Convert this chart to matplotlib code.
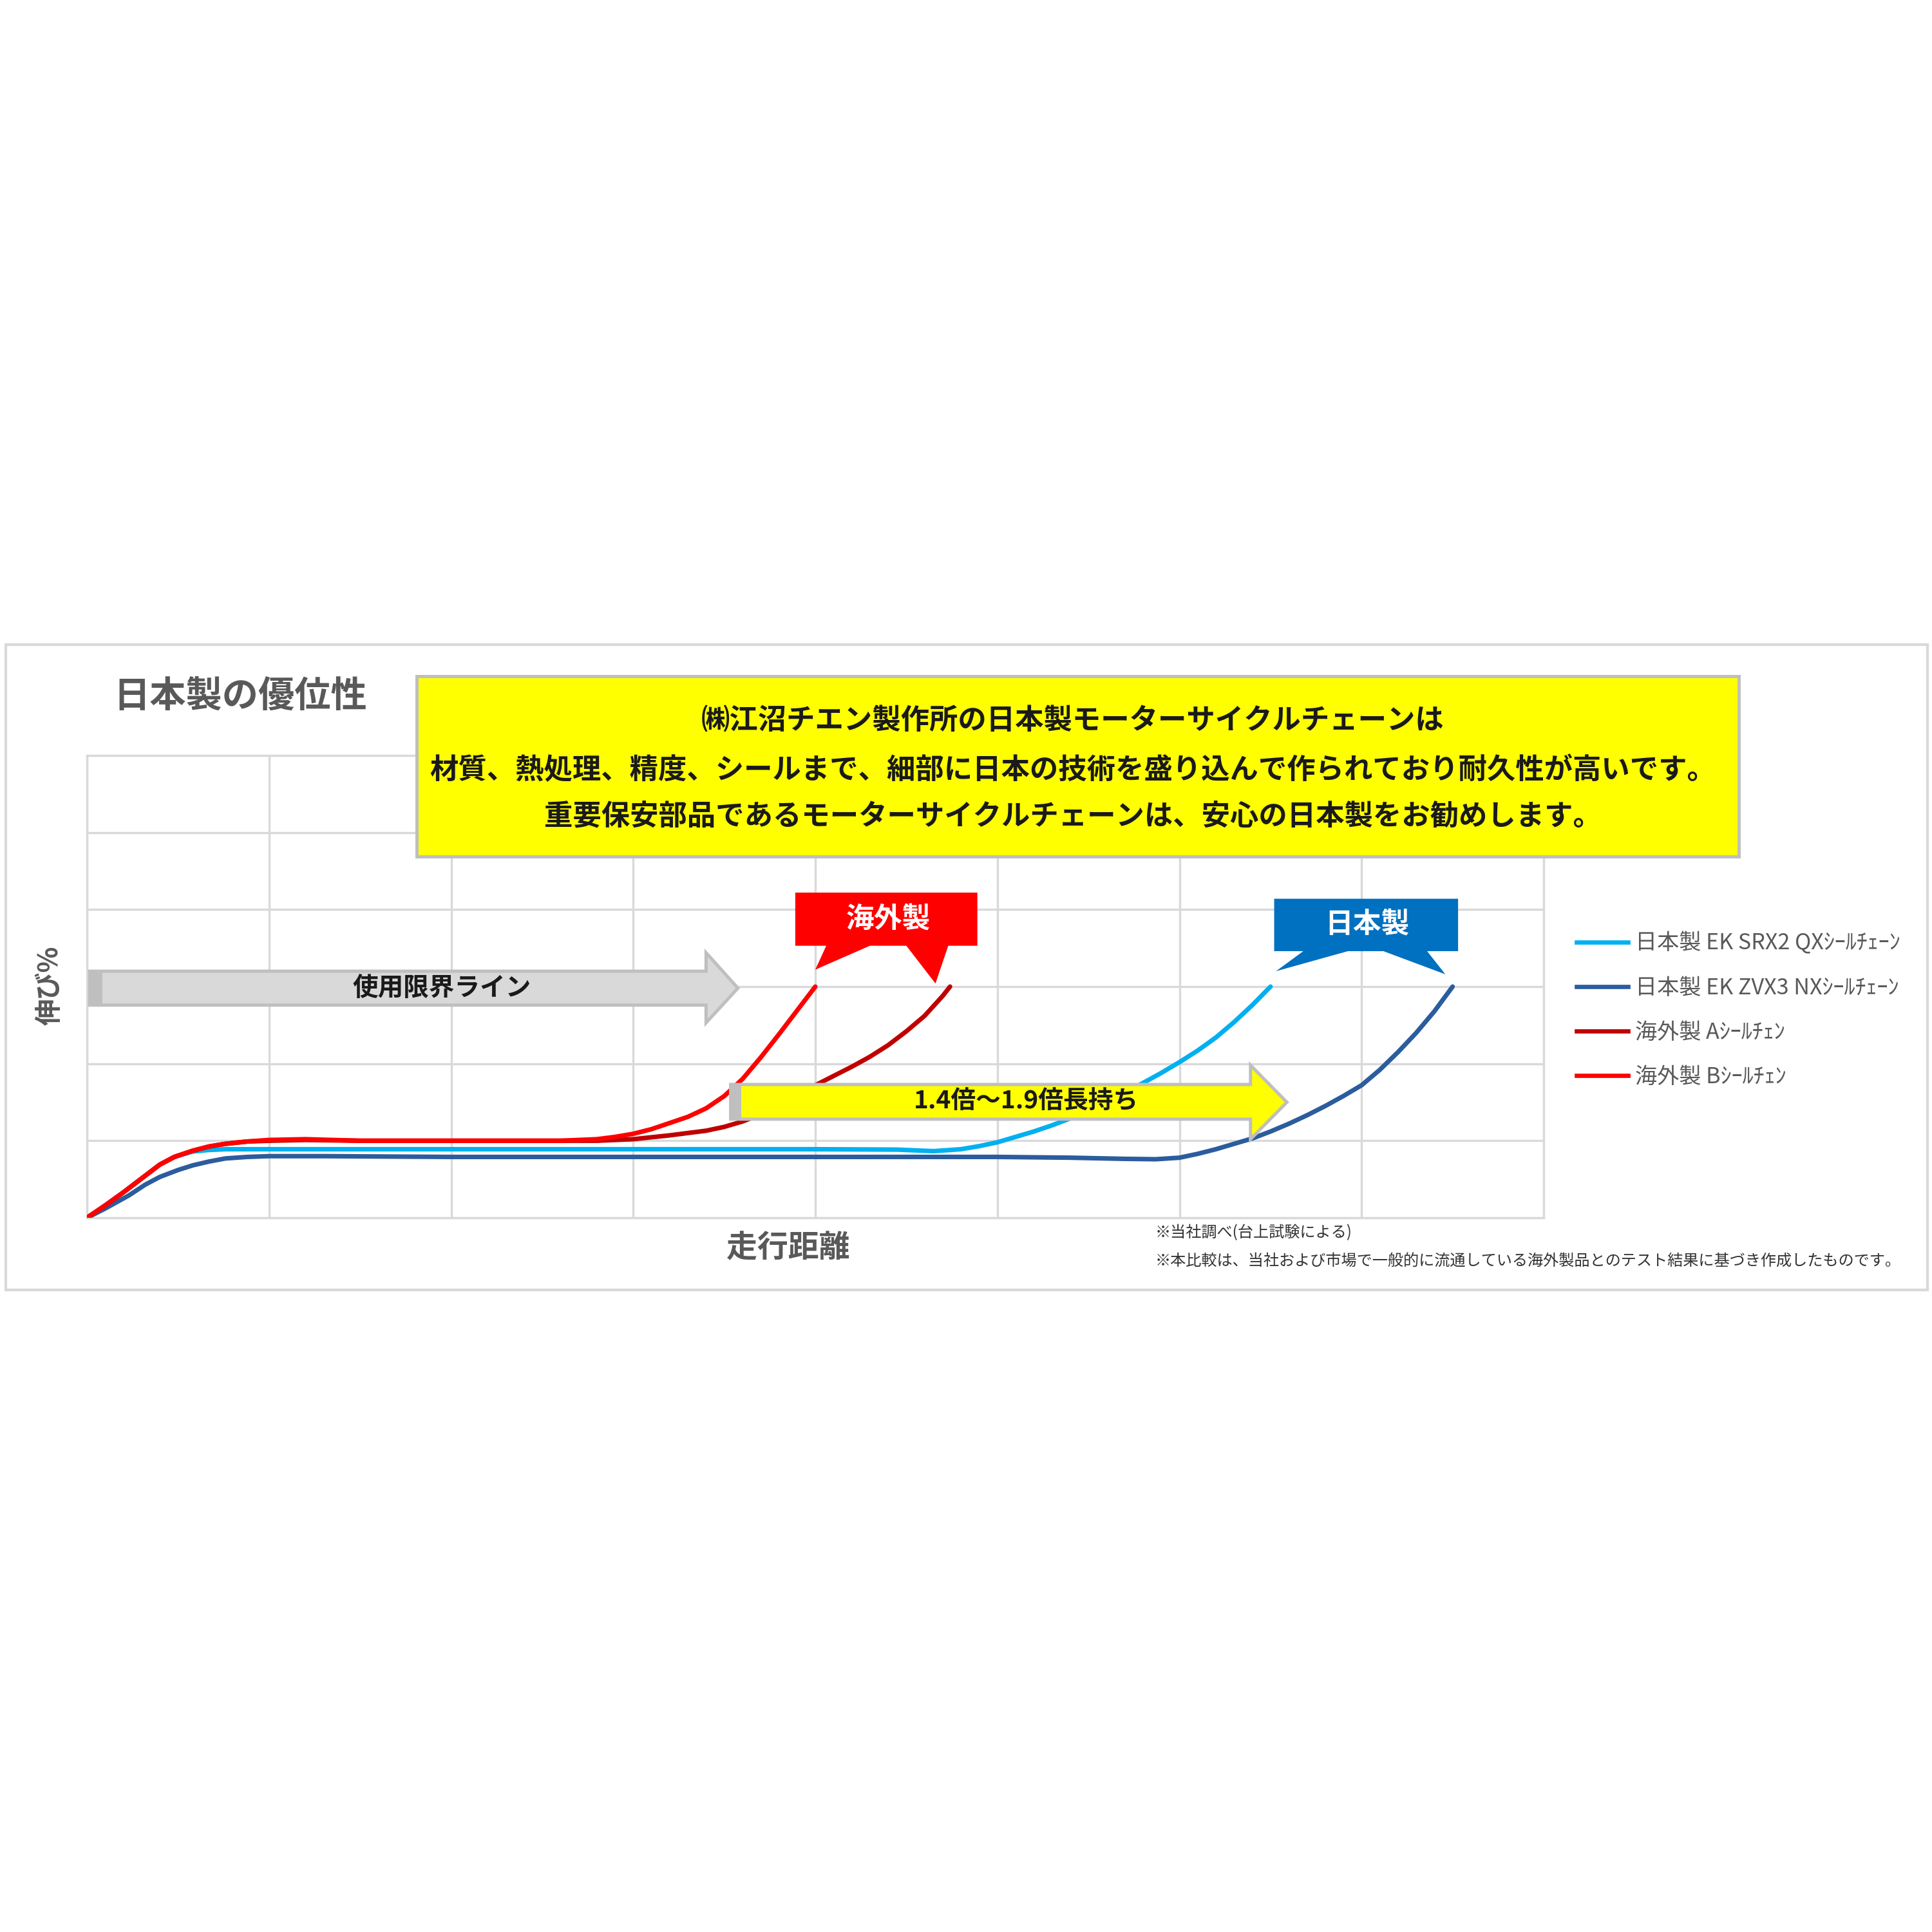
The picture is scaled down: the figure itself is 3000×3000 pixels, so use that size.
import matplotlib
matplotlib.use("Agg")
import matplotlib.pyplot as plt
from matplotlib.patches import Polygon, Rectangle
from matplotlib.lines import Line2D

plt.rcParams['font.family'] = ['Noto Sans CJK JP', 'DejaVu Sans']

# --- data (x: 走行距離 grid units, y: 伸び% grid units) ---
series_names = [
    "日本製 EK SRX2 QXｼｰﾙﾁｪｰﾝ",
    "日本製 EK ZVX3 NXｼｰﾙﾁｪｰﾝ",
    "海外製 Aｼｰﾙﾁｪﾝ",
    "海外製 Bｼｰﾙﾁｪﾝ",
]
series_colors = ["#00b0f0", "#2b5c9e", "#c00000", "#ff0000"]

srx2_x = [0, 0.1, 0.2, 0.3, 0.4, 0.48, 0.58, 0.67, 0.76, 0.9, 1.0, 1.5, 2.0, 3.0, 4.0, 4.45,
          4.65, 4.8, 4.9, 5.0, 5.1, 5.2, 5.3, 5.4, 5.5, 5.6, 5.7, 5.8, 5.9, 6.0, 6.1, 6.2,
          6.3, 6.4, 6.5]
srx2_y = [0, 0.16, 0.33, 0.51, 0.69, 0.79, 0.86, 0.88, 0.89, 0.89, 0.89, 0.89, 0.89, 0.89, 0.89, 0.885,
          0.865, 0.89, 0.93, 0.98, 1.05, 1.12, 1.2, 1.29, 1.39, 1.5, 1.62, 1.75, 1.88, 2.02, 2.17, 2.34,
          2.54, 2.76, 3.0]

zvx3_x = [0, 0.1, 0.23, 0.32, 0.4, 0.5, 0.58, 0.67, 0.76, 0.88, 1.0, 1.3, 2.0, 3.0, 4.0, 5.0,
          5.4, 5.7, 5.87, 6.0, 6.1, 6.2, 6.3, 6.4, 6.5, 6.6, 6.7, 6.8, 6.9, 7.0, 7.1, 7.2,
          7.3, 7.4, 7.5]
zvx3_y = [0, 0.12, 0.29, 0.43, 0.53, 0.62, 0.68, 0.73, 0.77, 0.79, 0.80, 0.80, 0.79, 0.79, 0.79, 0.79,
          0.78, 0.765, 0.76, 0.78, 0.83, 0.89, 0.96, 1.03, 1.12, 1.22, 1.33, 1.45, 1.58, 1.72, 1.92, 2.15,
          2.4, 2.68, 3.0]

a_x = [0, 0.1, 0.2, 0.3, 0.4, 0.48, 0.58, 0.67, 0.76, 0.88, 1.0, 1.2, 1.5, 2.0, 2.6, 2.8,
       3.0, 3.2, 3.4, 3.5, 3.6, 3.7, 3.8, 3.9, 4.0, 4.1, 4.2, 4.3, 4.4, 4.5, 4.6, 4.7, 4.74]
a_y = [0, 0.16, 0.33, 0.51, 0.69, 0.79, 0.87, 0.925, 0.96, 0.99, 1.0, 1.01, 1.0, 1.0, 1.0, 1.0,
       1.02, 1.07, 1.13, 1.18, 1.25, 1.34, 1.45, 1.58, 1.72, 1.84, 1.96, 2.09, 2.24, 2.42, 2.62, 2.88, 3.0]

b_x = [0, 0.1, 0.2, 0.3, 0.4, 0.48, 0.58, 0.67, 0.76, 0.88, 1.0, 1.2, 1.5, 2.0, 2.6, 2.8,
       2.9, 3.0, 3.1, 3.2, 3.3, 3.4, 3.5, 3.6, 3.7, 3.8, 3.9, 4.0]
b_y = [0, 0.16, 0.33, 0.51, 0.69, 0.79, 0.87, 0.925, 0.96, 0.99, 1.01, 1.02, 1.0, 1.0, 1.0, 1.02,
       1.05, 1.09, 1.15, 1.23, 1.31, 1.42, 1.58, 1.8, 2.08, 2.38, 2.69, 3.0]

title_text = "日本製の優位性"
box_lines = [
    "㈱江沼チエン製作所の日本製モーターサイクルチェーンは",
    "材質、熱処理、精度、シールまで、細部に日本の技術を盛り込んで作られており耐久性が高いです。",
    "重要保安部品であるモーターサイクルチェーンは、安心の日本製をお勧めします。",
]
limit_text = "使用限界ライン"
life_text = "1.4倍～1.9倍長持ち"
foreign_tag = "海外製"
japan_tag = "日本製"
notes = [
    "※当社調べ(台上試験による)",
    "※本比較は、当社および市場で一般的に流通している海外製品とのテスト結果に基づき作成したものです。",
]

GRAY_TXT = "#595959"
GRID = "#d9d9d9"


def fy(py):
    return 1 - py / 3000


fig = plt.figure(figsize=(10, 10), dpi=300)
fig.patch.set_facecolor("white")

ax = fig.add_axes([135 / 3000, fy(1891), 2262 / 3000, 718 / 3000])
ax.set_xlim(0, 8)
ax.set_ylim(0, 6)
ax.set_xticks(range(9))
ax.set_yticks(range(7))
ax.grid(color=GRID, lw=0.8)
ax.set_axisbelow(True)
ax.tick_params(length=0, labelbottom=False, labelleft=False)
for sp in ax.spines.values():
    sp.set_color(GRID)
    sp.set_linewidth(0.8)

xs = [srx2_x, zvx3_x, a_x, b_x]
ys = [srx2_y, zvx3_y, a_y, b_y]
for x, y, c, name in zip(xs, ys, series_colors, series_names):
    ax.plot(x, y, color=c, lw=1.7, solid_capstyle="round", solid_joinstyle="round",
            label=name, zorder=3)

# grey "limit" arrow
gray_arrow = [(0.015, 2.76), (3.40, 2.76), (3.40, 2.53), (3.575, 2.98), (3.40, 3.44),
              (3.40, 3.20), (0.015, 3.20)]
ax.add_patch(Polygon(gray_arrow, closed=True, facecolor="#d9d9d9", edgecolor="#bfbfbf",
                     lw=1.2, zorder=4, joinstyle="miter"))
ax.add_patch(Rectangle((0.015, 2.76), 0.07, 0.44, facecolor="#bfbfbf", edgecolor="none", zorder=4))
ax.text(1.95, 2.98, limit_text, ha="center", va="center", fontsize=9.5,
        fontweight="bold", color="#1a1a1a", zorder=5)

# yellow "life" arrow
yellow_arrow = [(3.535, 1.28), (6.39, 1.28), (6.39, 1.02), (6.59, 1.50), (6.39, 1.98),
                (6.39, 1.73), (3.535, 1.73)]
ax.add_patch(Polygon(yellow_arrow, closed=True, facecolor="#ffff00", edgecolor="#bfbfbf",
                     lw=1.2, zorder=4, joinstyle="miter"))
ax.add_patch(Rectangle((3.535, 1.28), 0.06, 0.45, facecolor="#bfbfbf", edgecolor="none", zorder=4))
ax.text(5.16, 1.51, life_text, ha="center", va="center", fontsize=9.3,
        fontweight="bold", color="#1a1a1a", zorder=5)

# callouts
red_tag = [(3.89, 4.22), (4.89, 4.22), (4.89, 3.53), (4.73, 3.53), (4.66, 3.04), (4.50, 3.53),
           (4.30, 3.53), (4.0, 3.22), (4.06, 3.53), (3.89, 3.53)]
ax.add_patch(Polygon(red_tag, closed=True, facecolor="#ff0000", edgecolor="none", zorder=6))
ax.text(4.40, 3.88, foreign_tag, ha="center", va="center", fontsize=10.5,
        fontweight="bold", color="white", zorder=7)

blue_tag = [(6.52, 4.14), (7.53, 4.14), (7.53, 3.46), (7.36, 3.46), (7.46, 3.16), (7.12, 3.46),
            (6.925, 3.46), (6.53, 3.20), (6.68, 3.46), (6.52, 3.46)]
ax.add_patch(Polygon(blue_tag, closed=True, facecolor="#0070c0", edgecolor="none", zorder=6))
ax.text(7.03, 3.81, japan_tag, ha="center", va="center", fontsize=10.5,
        fontweight="bold", color="white", zorder=7)

# legend
handles = [Line2D([0], [0], color=c, lw=1.6) for c in series_colors]
ax.legend(handles, series_names, loc="center left", bbox_to_anchor=(2448 / 3000, fy(1569)),
          bbox_transform=fig.transFigure, frameon=False, fontsize=8.2, labelcolor=GRAY_TXT,
          handlelength=2.35, handletextpad=0.3, labelspacing=1.0, borderpad=0, borderaxespad=0)

# titles / labels
fig.text(176 / 3000, fy(1081), title_text, ha="left", va="center", fontsize=13.5,
         fontweight="bold", color=GRAY_TXT)
fig.text(1224 / 3000, fy(1938), "走行距離", ha="center", va="center", fontsize=11.5,
         fontweight="bold", color=GRAY_TXT)
fig.text(78 / 3000, fy(1530), "伸び%", ha="center", va="center", rotation=90, fontsize=10,
         fontweight="bold", color=GRAY_TXT)

# yellow message box
fig.add_artist(Rectangle((647 / 3000, fy(1330)), (2700 - 647) / 3000, 280 / 3000,
                         transform=fig.transFigure, facecolor="#ffff00", edgecolor="#bfbfbf",
                         lw=1.2, zorder=5))
for line, py in zip(box_lines, [1119, 1196, 1269]):
    fig.text(1666 / 3000, fy(py), line, ha="center", va="center", fontsize=10.65,
             fontweight="bold", color="#1a1a1a", zorder=6)

# footnotes
for line, py in zip(notes, [1914, 1958]):
    fig.text(1794 / 3000, fy(py), line, ha="left", va="center", fontsize=5.8, color="#333333")

# outer frame
fig.add_artist(Rectangle((9 / 3000, fy(2003)), 2984 / 3000, 1002 / 3000,
                         transform=fig.transFigure, fill=False, edgecolor=GRID, lw=1.0))

fig.savefig("out.png", dpi=300)
